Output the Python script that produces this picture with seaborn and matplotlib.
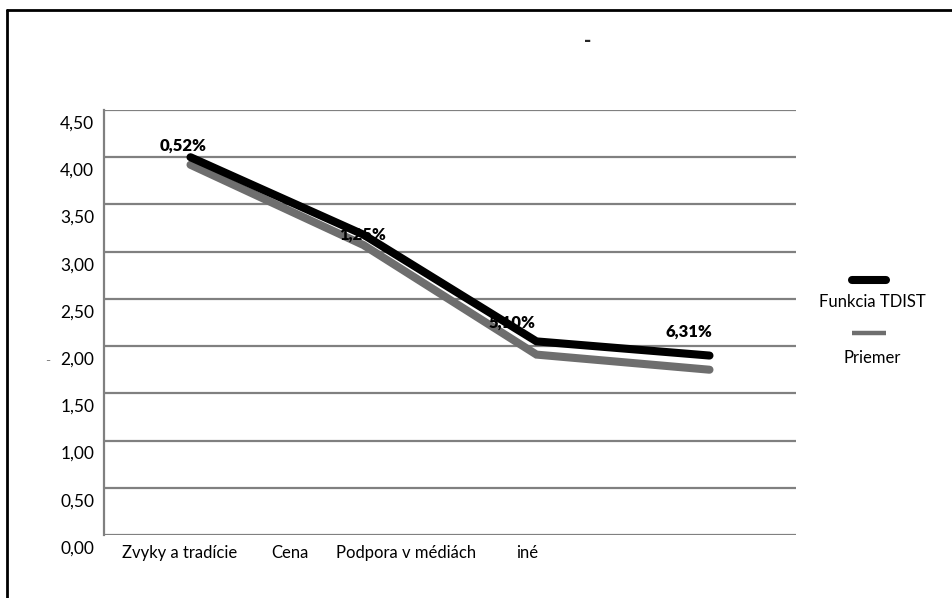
import matplotlib
matplotlib.use("Agg")
import matplotlib.pyplot as plt
import matplotlib.transforms as mtransforms
from matplotlib.lines import Line2D
import seaborn as sns
import pandas as pd

# Categories and series
categories = ["Zvyky a tradície", "Cena", "Podpora v médiách", "iné"]
funkcia_tdist = [4.00, 3.18, 2.05, 1.90]
priemer = [3.92, 3.07, 1.91, 1.75]
point_labels = ["0,52%", "1,25%", "5,10%", "6,31%"]
y_ticks = [0.0, 0.5, 1.0, 1.5, 2.0, 2.5, 3.0, 3.5, 4.0, 4.5]
y_tick_labels = ["0,00", "0,50", "1,00", "1,50", "2,00", "2,50", "3,00", "3,50", "4,00", "4,50"]
series_names = ["Funkcia TDIST", "Priemer"]

sns.set_theme(style="white")
plt.rcParams["font.family"] = ["Lato", "DejaVu Sans"]

df = pd.DataFrame({
    "kategoria": list(range(len(categories))) * 2,
    "hodnota": funkcia_tdist + priemer,
    "seria": [series_names[0]] * len(categories) + [series_names[1]] * len(categories),
})

W, H, DPI = 952, 598, 100
fig = plt.figure(figsize=(W / DPI, H / DPI), dpi=DPI)
ax = fig.add_axes([104 / W, (H - 535) / H, (796 - 104) / W, (535 - 110) / H])

BLACK = "#000000"
GREY = "#6e6e6e"
palette = {series_names[0]: BLACK, series_names[1]: GREY}
# grey series first so the black one sits on top
sns.lineplot(data=df, x="kategoria", y="hodnota", hue="seria",
             hue_order=[series_names[1], series_names[0]], palette=palette,
             linewidth=5.8, ax=ax, legend=False, sort=False,
             solid_capstyle="round", solid_joinstyle="miter")

ax.set_xlim(-0.5, len(categories) - 0.5)
ax.set_ylim(0, 4.5)

# horizontal gridlines
for yv in y_ticks:
    ax.axhline(yv, color="#808080", linewidth=1.6, zorder=0)

for side in ["top", "right", "bottom"]:
    ax.spines[side].set_visible(False)
ax.spines["left"].set_color("#808080")
ax.spines["left"].set_linewidth(1.6)

FS = 12
ax.set_yticks(y_ticks)
ax.set_yticklabels(y_tick_labels, fontsize=12.5, color=BLACK)
ax.tick_params(axis="y", length=0, pad=7)
for lbl in ax.get_yticklabels():
    lbl.set_transform(lbl.get_transform() + mtransforms.ScaledTranslation(0, -12 / DPI, fig.dpi_scale_trans))

ax.set_xticks(range(len(categories)))
ax.set_xticklabels(categories, fontsize=FS, color=BLACK)
ax.tick_params(axis="x", length=0, pad=7)
x_shifts = [-11, -74, -130, -182]
for lbl, dx in zip(ax.get_xticklabels(), x_shifts):
    lbl.set_transform(lbl.get_transform() + mtransforms.ScaledTranslation(dx / DPI, 0, fig.dpi_scale_trans))

ax.set_xlabel("")
ax.set_ylabel("-", rotation=0, color="#808080", fontsize=10, va="center")
ax.yaxis.set_label_coords(-0.081, 0.41)

# value labels on the black series (offsets in pixels)
label_offsets = [(-7, 12), (-1, 0), (-24, 19), (-21, 24)]
for i, (txt, (dx, dy)) in enumerate(zip(point_labels, label_offsets)):
    ax.annotate(txt, (i, funkcia_tdist[i]), xytext=(dx, dy), textcoords="offset pixels",
                ha="center", va="center", fontsize=FS, fontweight="heavy", color=BLACK)

# title
fig.text(588 / W, 1 - 41 / H, "-", ha="center", va="center", fontsize=14, fontweight="heavy")

# legend: line sample stacked above each entry name
legend_items = [(series_names[0], BLACK, 5.8, 280, 302), (series_names[1], GREY, 3.2, 333, 358)]
for name, col, lw, y_line, y_text in legend_items:
    fig.add_artist(Line2D([852 / W, 886 / W], [1 - y_line / H, 1 - y_line / H],
                          transform=fig.transFigure, color=col, linewidth=lw,
                          solid_capstyle="round" if lw > 4 else "butt"))
    fig.text(872 / W, 1 - y_text / H, name, ha="center", va="center", fontsize=FS, color=BLACK)

# outer border (top and left edges)
fig.add_artist(Line2D([7 / W, 7 / W], [0, 1 - 10 / H], transform=fig.transFigure, color=BLACK, linewidth=2))
fig.add_artist(Line2D([7 / W, 1], [1 - 10 / H, 1 - 10 / H], transform=fig.transFigure, color=BLACK, linewidth=2))

fig.savefig("out.png", dpi=DPI, facecolor="white")
